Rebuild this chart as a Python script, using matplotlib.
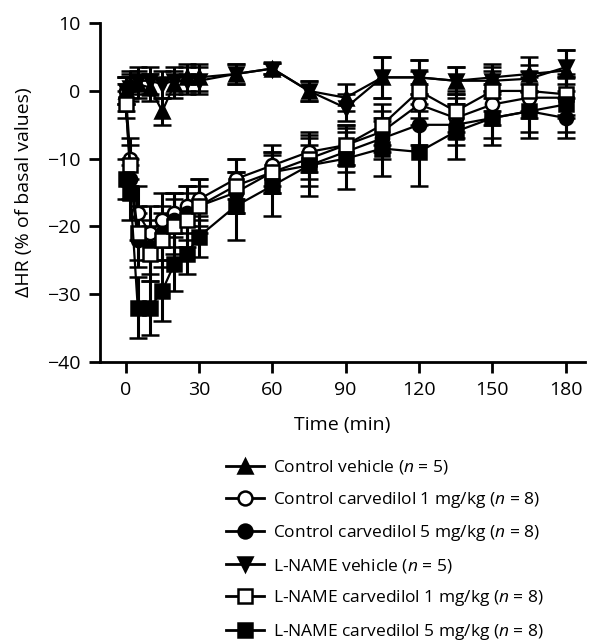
import numpy as np
import matplotlib
matplotlib.use("Agg")
import matplotlib.pyplot as plt
from matplotlib.lines import Line2D

plt.rcParams['font.family'] = ['Open Sans', 'DejaVu Sans']
plt.rcParams['mathtext.fontset'] = 'custom'
plt.rcParams['mathtext.rm'] = 'Open Sans'
plt.rcParams['mathtext.it'] = 'Open Sans:italic'

# time points (min)
time = [0, 2, 5, 10, 15, 20, 25, 30, 45, 60, 75, 90, 105, 120, 135, 150, 165, 180]

ctrl_vehicle = [0, 1, 1, 0.5, -3, 1, 2, 2, 2.5, 3.3, 0, -1, 2, 2, 1.5, 2, 2.5, 3]
ctrl_vehicle_err = [2, 2, 2, 2, 2, 2, 2, 2, 1.5, 0.8, 1.5, 2, 3, 2.5, 2, 2, 2.5, 3]

ctrl_carv1 = [0, -10, -18, -21, -19, -18, -17, -16, -13, -11, -9, -8, -6, -2, -4, -2, -1, -1]
ctrl_carv1_err = [2, 3, 4, 4, 4, 3, 3, 3, 3, 3, 3, 3, 3, 3, 3, 3, 3, 3]

ctrl_carv5 = [-1, -13, -22, -23, -21, -19, -18, -17, -15, -12, -11, -9, -7, -5, -5, -4, -3, -4]
ctrl_carv5_err = [2, 3, 4, 4, 4, 4, 4, 3, 3, 3, 3, 3, 3, 3, 3, 3, 3, 3]

lname_vehicle = [0, 0.5, 1.5, 1.5, 1, 1.5, 1.5, 1.5, 2.5, 3.3, 0, -2.5, 2, 2, 1.5, 1.5, 1.8, 3.5]
lname_vehicle_err = [2, 2, 2, 2, 2, 2, 2, 2, 1.5, 0.8, 1.5, 2, 3, 2.5, 2, 2, 2, 2.5]

lname_carv1 = [-2, -11, -21, -24, -22, -20, -19, -17, -14, -12, -10, -8, -5, 0, -3, 0, 0, -0.5]
lname_carv1_err = [2, 3, 4, 4, 4, 4, 4, 4, 4, 3, 3, 3, 3, 3, 3, 3, 3, 3]

lname_carv5 = [-13, -15, -32, -32, -29.5, -25.5, -24, -21.5, -17, -14, -11, -10, -8.5, -9, -6, -4, -3, -2]
lname_carv5_err = [3, 4, 4.5, 4, 4.5, 4, 3, 3, 5, 4.5, 4.5, 4.5, 4, 5, 4, 4, 4, 4]

labels = [
    r'Control vehicle ($n$ = 5)',
    r'Control carvedilol 1 mg/kg ($n$ = 8)',
    r'Control carvedilol 5 mg/kg ($n$ = 8)',
    r'L-NAME vehicle ($n$ = 5)',
    r'L-NAME carvedilol 1 mg/kg ($n$ = 8)',
    r'L-NAME carvedilol 5 mg/kg ($n$ = 8)',
]
series = [
    (ctrl_vehicle, ctrl_vehicle_err, '^', 'k'),
    (ctrl_carv1, ctrl_carv1_err, 'o', 'white'),
    (ctrl_carv5, ctrl_carv5_err, 'o', 'k'),
    (lname_vehicle, lname_vehicle_err, 'v', 'k'),
    (lname_carv1, lname_carv1_err, 's', 'white'),
    (lname_carv5, lname_carv5_err, 's', 'k'),
]

fig = plt.figure(figsize=(6.09, 6.44), dpi=100)
ax = fig.add_axes([0.164, 0.438, 0.797, 0.526])

handles = []
for (vals, err, mk, fc), lab in zip(series, labels):
    ax.errorbar(time, vals, yerr=err, color='k', lw=1.6, marker=mk, ms=9.5,
                mfc=fc, mec='k', mew=1.8, capsize=6.5, capthick=2.5, elinewidth=2.2)
    handles.append(Line2D([], [], color='k', lw=2, marker=mk, ms=10,
                          mfc=fc, mec='k', mew=1.8))

ax.set_xlim(-10.5, 188)
ax.set_ylim(-40, 10)
ax.set_xticks([0, 30, 60, 90, 120, 150, 180])
ax.set_yticks([-40, -30, -20, -10, 0, 10])
ax.set_yticklabels(['\u221240', '\u221230', '\u221220', '\u221210', '0', '10'])
ax.spines['top'].set_visible(False)
ax.spines['right'].set_visible(False)
for s in ['left', 'bottom']:
    ax.spines[s].set_linewidth(2)
ax.tick_params(direction='out', length=8, width=2, labelsize=14, pad=6)
ax.set_xlabel('Time (min)', fontsize=14, labelpad=12)
ax.set_ylabel('\u0394HR (% of basal values)', fontsize=14, labelpad=10)

fig.legend(handles, labels, loc='upper left', bbox_to_anchor=(0.36, 0.299),
           frameon=False, fontsize=12.5, labelspacing=0.776, handlelength=2.2,
           handletextpad=0.5, borderaxespad=0)

fig.savefig('out.png', dpi=100)
